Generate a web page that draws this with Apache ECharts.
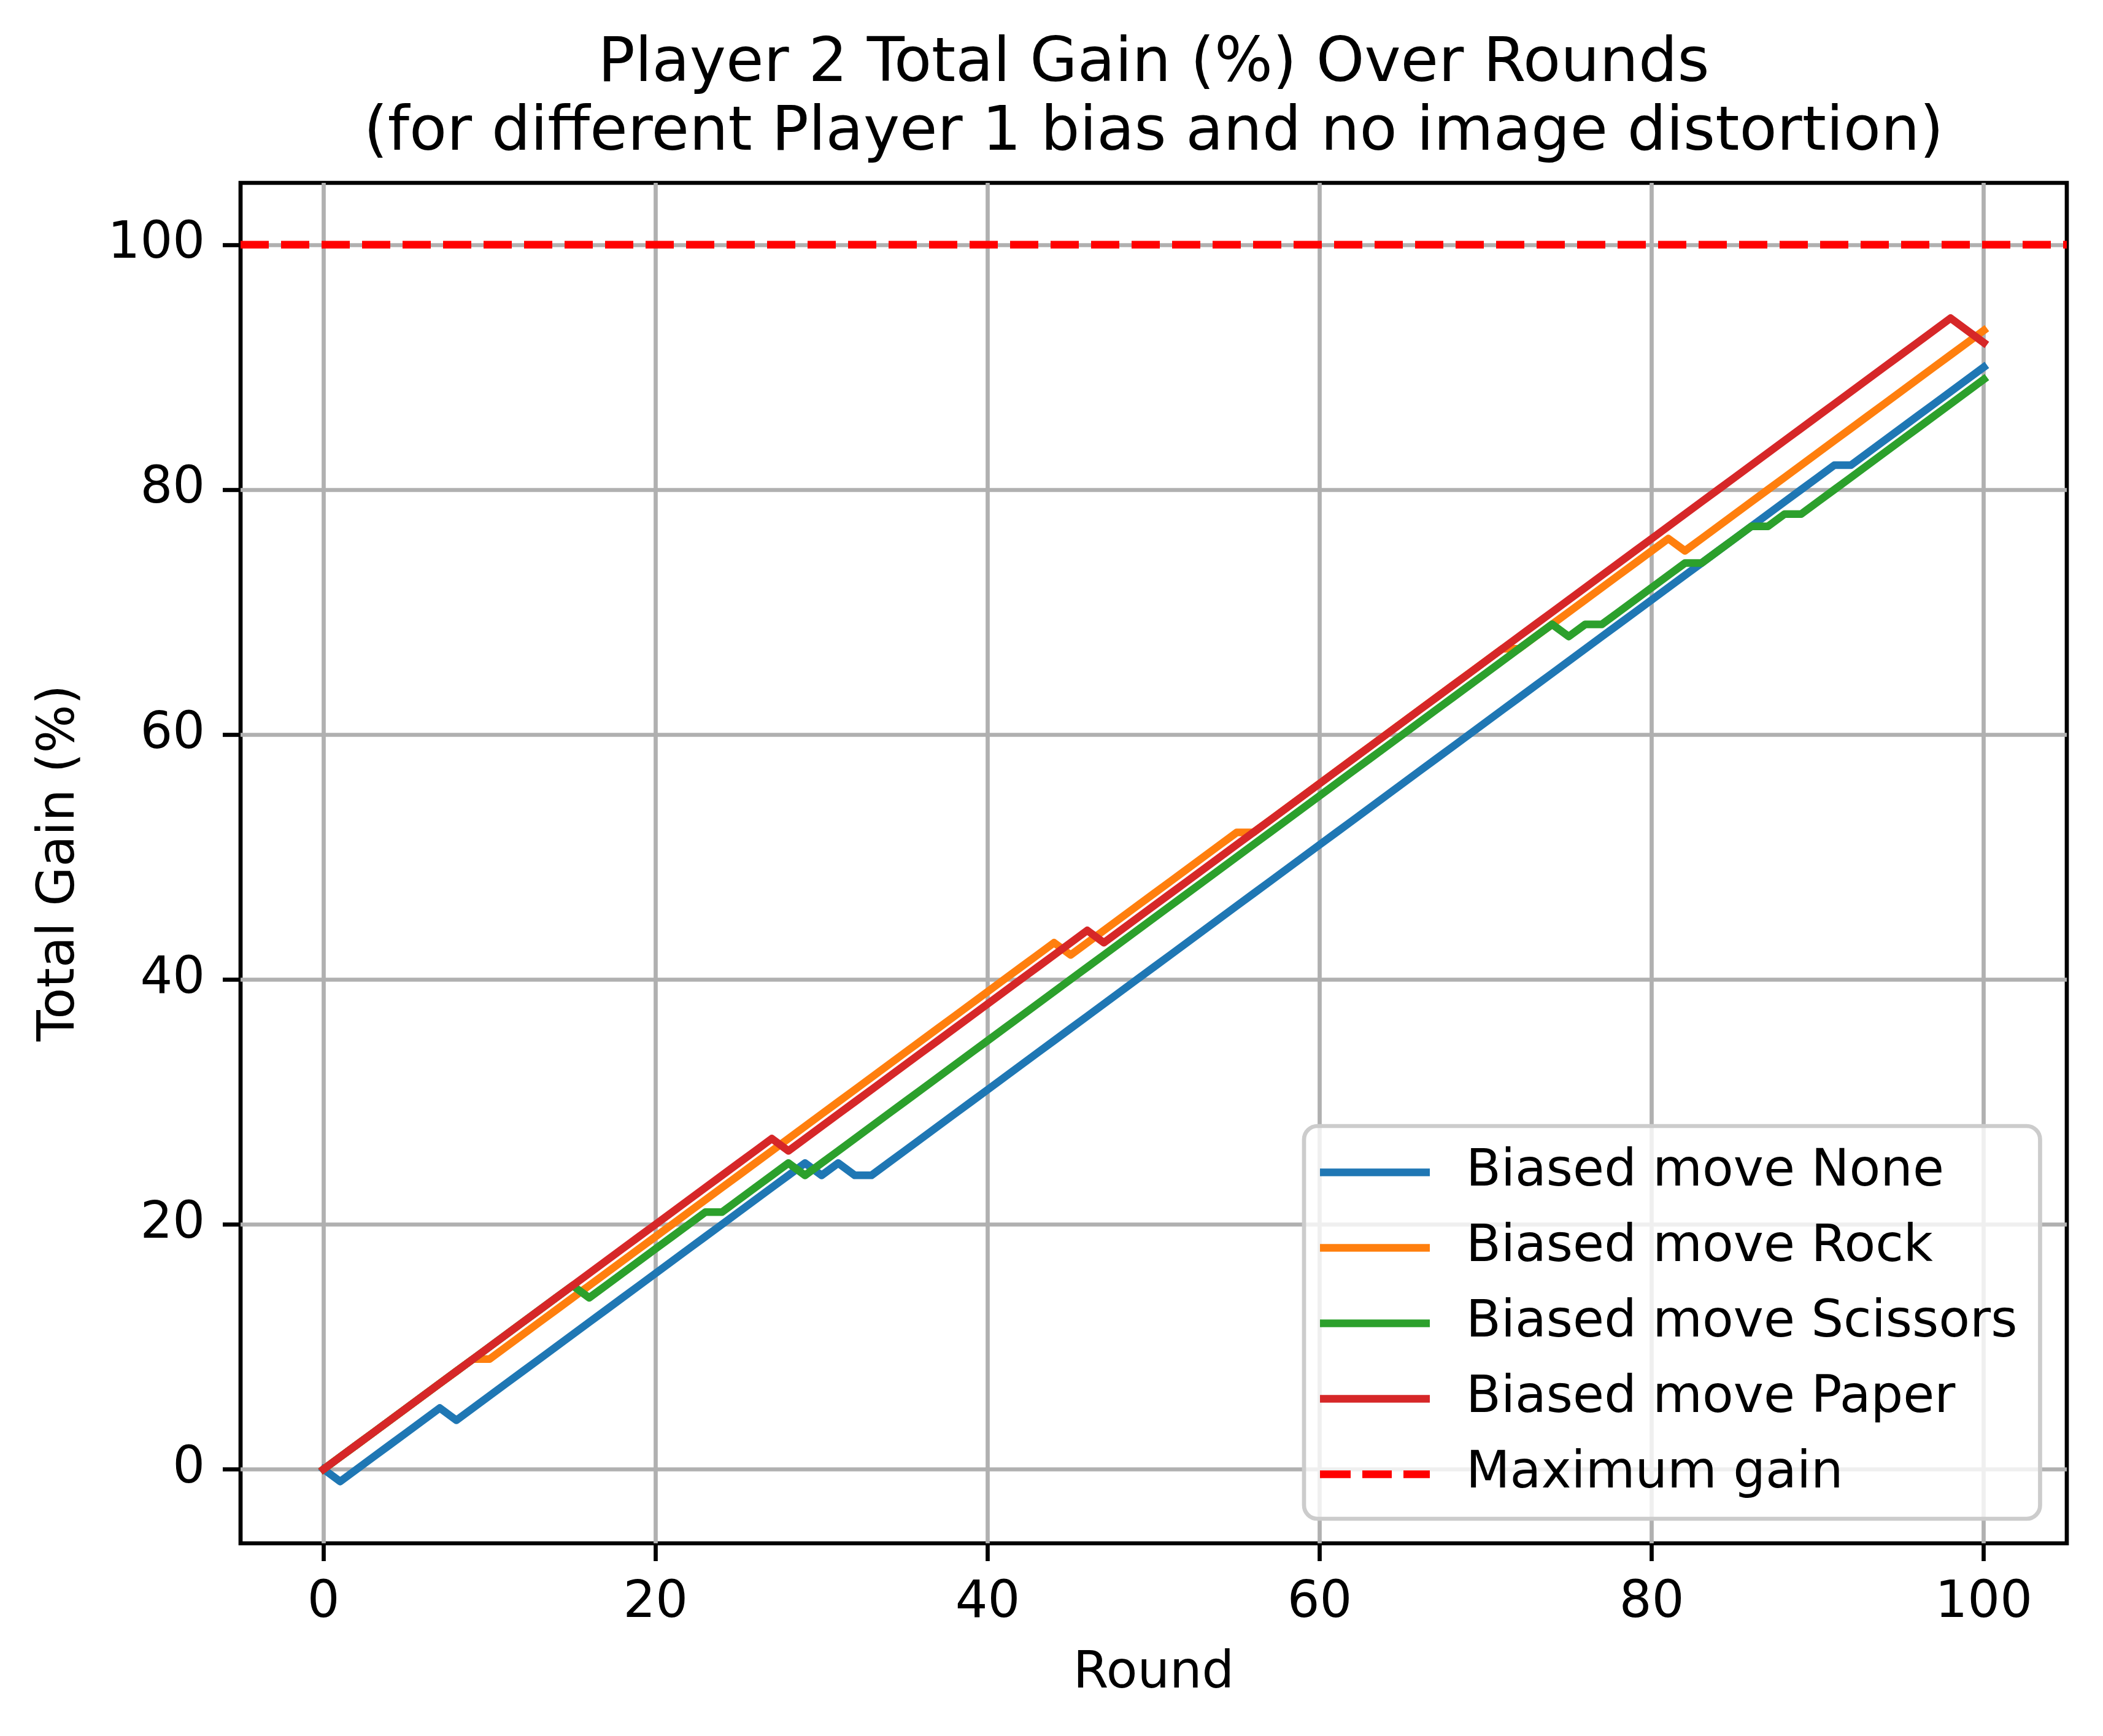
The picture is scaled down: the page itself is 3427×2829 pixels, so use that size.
<!DOCTYPE html>
<html>
<head>
<meta charset="utf-8">
<title>Player 2 Total Gain</title>
<script src="https://cdn.jsdelivr.net/npm/echarts@6/dist/echarts.min.js"></script>
<style>
  html, body { margin: 0; padding: 0; background: #fff; }
  #chart { width: 3427px; height: 2829px; }
</style>
</head>
<body>
<div id="chart"></div>
<script>
// cumulative gain per round (index = round number)
const noneGain = [
  0, -1, 0, 1, 2, 3, 4, 5, 4, 5,
  6, 7, 8, 9, 10, 11, 12, 13, 14, 15,
  16, 17, 18, 19, 20, 21, 22, 23, 24, 25,
  24, 25, 24, 24, 25, 26, 27, 28, 29, 30,
  31, 32, 33, 34, 35, 36, 37, 38, 39, 40,
  41, 42, 43, 44, 45, 46, 47, 48, 49, 50,
  51, 52, 53, 54, 55, 56, 57, 58, 59, 60,
  61, 62, 63, 64, 65, 66, 67, 68, 69, 70,
  71, 72, 73, 74, 75, 76, 77, 78, 79, 80,
  81, 82, 82, 83, 84, 85, 86, 87, 88, 89,
  90
];
const rockGain = [
  0, 1, 2, 3, 4, 5, 6, 7, 8, 9,
  9, 10, 11, 12, 13, 14, 15, 16, 17, 18,
  19, 20, 21, 22, 23, 24, 25, 26, 27, 28,
  29, 30, 31, 32, 33, 34, 35, 36, 37, 38,
  39, 40, 41, 42, 43, 42, 43, 44, 45, 46,
  47, 48, 49, 50, 51, 52, 52, 53, 54, 55,
  56, 57, 58, 59, 60, 61, 62, 63, 64, 65,
  66, 67, 67, 68, 69, 70, 71, 72, 73, 74,
  75, 76, 75, 76, 77, 78, 79, 80, 81, 82,
  83, 84, 85, 86, 87, 88, 89, 90, 91, 92,
  93
];
const scissorsGain = [
  0, 1, 2, 3, 4, 5, 6, 7, 8, 9,
  10, 11, 12, 13, 14, 15, 14, 15, 16, 17,
  18, 19, 20, 21, 21, 22, 23, 24, 25, 24,
  25, 26, 27, 28, 29, 30, 31, 32, 33, 34,
  35, 36, 37, 38, 39, 40, 41, 42, 43, 44,
  45, 46, 47, 48, 49, 50, 51, 52, 53, 54,
  55, 56, 57, 58, 59, 60, 61, 62, 63, 64,
  65, 66, 67, 68, 69, 68, 69, 69, 70, 71,
  72, 73, 74, 74, 75, 76, 77, 77, 78, 78,
  79, 80, 81, 82, 83, 84, 85, 86, 87, 88,
  89
];
const paperGain = [
  0, 1, 2, 3, 4, 5, 6, 7, 8, 9,
  10, 11, 12, 13, 14, 15, 16, 17, 18, 19,
  20, 21, 22, 23, 24, 25, 26, 27, 26, 27,
  28, 29, 30, 31, 32, 33, 34, 35, 36, 37,
  38, 39, 40, 41, 42, 43, 44, 43, 44, 45,
  46, 47, 48, 49, 50, 51, 52, 53, 54, 55,
  56, 57, 58, 59, 60, 61, 62, 63, 64, 65,
  66, 67, 68, 69, 70, 71, 72, 73, 74, 75,
  76, 77, 78, 79, 80, 81, 82, 83, 84, 85,
  86, 87, 88, 89, 90, 91, 92, 93, 94, 93,
  92
];
const maxGain = 100;

const seriesNames = ['Biased move None', 'Biased move Rock', 'Biased move Scissors', 'Biased move Paper'];
const maxGainName = 'Maximum gain';
const xTicks = [0, 20, 40, 60, 80, 100];
const yTicks = [0, 20, 40, 60, 80, 100];
const xRange = [-5, 105];
const yRange = [-6.05, 105.05];

const colors = ['#1f77b4', '#ff7f0e', '#2ca02c', '#d62728'];
const FONT = 'DejaVu Sans';
const LW = 12.5;   // 1.5pt at 600dpi
const THIN = 6.7;  // 0.8pt

// legend handles: solid bar and three dashes, same size as the plot lines
const solidIcon = 'path://M0,0H179V12.5H0Z';
const dashIcon = 'path://M0,0H50V12.5H0Z M69,0H117V12.5H69Z M136,0H179V12.5H136Z';

const chart = echarts.init(document.getElementById('chart'), null, { renderer: 'canvas', devicePixelRatio: 1 });

const gainSeries = [noneGain, rockGain, scissorsGain, paperGain].map((vals, k) => ({
  name: seriesNames[k],
  type: 'line',
  data: vals.map((v, i) => [i, v]),
  symbol: 'none',
  animation: false,
  lineStyle: { color: colors[k], width: LW, join: 'round', cap: 'square' },
  itemStyle: { color: colors[k] },
}));

const axisText = { fontFamily: FONT, fontSize: 83, color: '#000' };

chart.setOption({
  animation: false,
  backgroundColor: '#fff',
  title: {
    text: 'Player 2 Total Gain (%) Over Rounds\n(for different Player 1 bias and no image distortion)',
    left: 1880,
    top: 50,
    padding: 0,
    textAlign: 'center',
    textStyle: { fontFamily: FONT, fontSize: 100, fontWeight: 'normal', color: '#000', lineHeight: 112 },
  },
  grid: {
    left: 392, right: 59, top: 298, bottom: 314,
    show: true, borderColor: '#000', borderWidth: THIN, backgroundColor: 'transparent',
  },
  legend: {
    orient: 'vertical',
    left: 2125,
    top: 1835,
    padding: [34, 37, 31, 26],
    itemWidth: 179,
    itemHeight: 12.5,
    itemGap: 40,
    backgroundColor: 'rgba(255,255,255,0.8)',
    borderColor: '#cccccc',
    borderWidth: THIN,
    borderRadius: 22,
    itemStyle: { borderWidth: 0 },
    data: [
      ...seriesNames.map(n => ({ name: n, icon: solidIcon })),
      { name: maxGainName, icon: dashIcon },
    ],
    textStyle: { fontFamily: FONT, fontSize: 83, color: '#000', lineHeight: 83, padding: [0, 0, 0, 54] },
  },
  xAxis: {
    type: 'value',
    min: xRange[0],
    max: xRange[1],
    name: 'Round',
    nameLocation: 'middle',
    nameGap: 172,
    nameTextStyle: { ...axisText, lineHeight: 83 },
    axisLine: { show: false, onZero: false },
    axisTick: { show: true, length: 29, customValues: xTicks, lineStyle: { color: '#000', width: THIN } },
    axisLabel: { ...axisText, lineHeight: 83, margin: 57, customValues: xTicks },
    splitLine: { show: true, lineStyle: { color: '#b0b0b0', width: THIN } },
  },
  yAxis: {
    type: 'value',
    min: yRange[0],
    max: yRange[1],
    name: 'Total Gain (%)',
    nameLocation: 'middle',
    nameGap: 252,
    nameRotate: 90,
    nameTextStyle: { ...axisText, lineHeight: 83 },
    axisLine: { show: false, onZero: false },
    axisTick: { show: true, length: 29, customValues: yTicks, lineStyle: { color: '#000', width: THIN } },
    axisLabel: { ...axisText, margin: 58, customValues: yTicks },
    splitLine: { show: true, lineStyle: { color: '#b0b0b0', width: THIN } },
  },
  series: [
    ...gainSeries,
    {
      name: maxGainName,
      type: 'line',
      data: [[xRange[0], maxGain], [xRange[1], maxGain]],
      symbol: 'none',
      animation: false,
      lineStyle: { color: '#ff0000', width: LW, type: [46, 20], cap: 'butt' },
      itemStyle: { color: '#ff0000' },
    },
  ],
});
</script>
</body>
</html>
